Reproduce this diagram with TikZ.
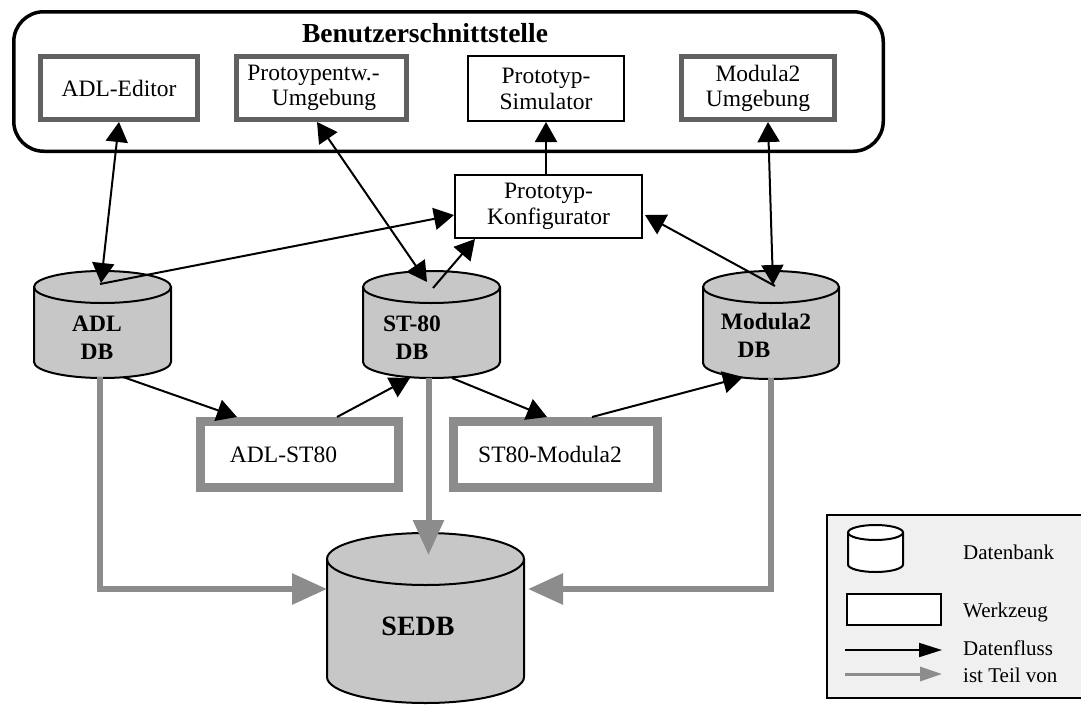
\documentclass[tikz,border=0pt]{standalone}
\usepackage{fontspec}
\setmainfont{Liberation Serif}
\usetikzlibrary{arrows.meta,calc}
\newcommand\myfs[2]{\fontsize{#1}{#2}\selectfont}
\newcommand\dbcyl[6]{%
  \path[#6] (#1-#4,#2) -- (#1-#4,#3)
     arc[start angle=180,end angle=0,x radius=#4,y radius=#5] -- (#1+#4,#2)
     arc[start angle=0,end angle=-180,x radius=#4,y radius=#5] -- cycle;
  \draw[line width=2pt] (#1-#4,#2) arc[start angle=180,end angle=0,x radius=#4,y radius=#5];
}
\tikzset{
  flowhead/.tip={Triangle[length=20pt,width=22pt]},
  flow/.style={line width=2pt, -flowhead},
  flowboth/.style={line width=2pt, flowhead-flowhead},
  partof/.style={line width=6pt, draw=black!45, -{Triangle[length=35pt,width=30pt,fill=black!45]}},
  tool/.style={draw=black!62, line width=5pt, fill=white, inner sep=0pt, font=\myfs{23.5}{25}, align=center},
  toolthick/.style={draw=black!45, line width=9pt, fill=white, inner sep=0pt, font=\myfs{23.5}{26}, align=center},
  plainbox/.style={draw, line width=2pt, fill=white, inner sep=0pt, font=\myfs{23.5}{26}, align=center},
  dbtext/.style={font=\bfseries\myfs{23.5}{28}, align=center, anchor=base},
  cylfill/.style={draw, line width=2pt, fill=black!22},
  legtext/.style={font=\myfs{21}{24}, anchor=base west, inner sep=0pt},
}
\begin{document}
\begin{tikzpicture}[x=1pt,y=-1pt]
\useasboundingbox (0,0) rectangle (1081,704);
\fill[white] (0,0) rectangle (1081,704);

% user interface frame
\draw[line width=3.5pt, rounded corners=30pt] (13.75,11.75) rectangle (883.25,151.25);
\node[font=\bfseries\myfs{27.5}{30}, anchor=base] (title) at (425,42) {Benutzerschnittstelle};

\node[tool, minimum width=157pt, minimum height=63pt] (adled) at (119,88) {ADL-Editor};
\node[tool, minimum width=170pt, minimum height=63pt] (proto) at (321.5,88) {Protoypentw.-\hspace*{16pt}\\\hspace*{5pt}Umgebung};
\node[plainbox, minimum width=156pt, minimum height=65pt] (sim) at (546,88.5) {Prototyp-\\Simulator};
\node[tool, minimum width=153pt, minimum height=63pt] (modu) at (758,88) {Modula2\\Umgebung};

\node[plainbox, minimum width=187pt, minimum height=63pt] (konf) at (548.5,206.5) {Prototyp-\\Konfigurator};

% databases
\dbcyl{102.5}{287}{362}{68.5}{16}{cylfill}
\dbcyl{431.5}{287}{362}{68.5}{16}{cylfill}
\dbcyl{771}{287}{363}{68}{16}{cylfill}
\dbcyl{425.5}{559}{677}{98.5}{26}{cylfill}
\node[dbtext] (adl) at (97,359) {ADL\\DB};
\node[dbtext] (st) at (412,359) {ST-80\\DB};
\node[dbtext] (mod) at (766,357) {Modula2\\DB\hspace*{24pt}};
\node[font=\bfseries\myfs{28}{30}, anchor=base] (sedb) at (418,635) {SEDB};

% translators
\node[toolthick, minimum width=198pt, minimum height=66pt] (adlst) at (299.5,454.5) {ADL-ST80\hspace*{32pt}};
\node[toolthick, minimum width=204pt, minimum height=66pt] (stmod) at (555.5,454.5) {ST80-Modula2\hspace*{11pt}};

% attachment points
\coordinate (adlC) at (101,283);
\coordinate (adlC2) at (100,284);
\coordinate (stC) at (427,282);
\coordinate (stC2) at (433,288);
\coordinate (modC) at (773,285);
\coordinate (modC2) at (775,286);
\coordinate (adlB) at (123,377);
\coordinate (stB1) at (410,378);
\coordinate (stB2) at (452,378);
\coordinate (modB) at (743,377);
\coordinate (adlG) at (100,377);
\coordinate (stG) at (428.5,378);
\coordinate (modG) at (771,378);
\coordinate (sedbL) at (327,589);
\coordinate (sedbR) at (528,589);
\coordinate (sedbT) at (428.5,555);

% data flow
\draw[flowboth] (adled.south) -- (adlC);
\draw[flowboth] ($(proto.south)+(-4.5,0)$) -- (stC);
\draw[flow] (konf.north -| sim.south) -- (sim.south);
\draw[flowboth] ($(modu.south)+(10,0)$) -- (modC);
\draw[flow] (adlC2) -- ($(konf.west)+(0,8.5)$);
\draw[flow] (stC2) -- ($(konf.south west)+(21,0)$);
\draw[flow] (modC2) -- ($(konf.east)+(2,8.5)$);
\draw[flow] (adlB) -- ($(adlst.north)+(-62.5,0)$);
\draw[flow] ($(adlst.north)+(37.5,0)$) -- (stB1);
\draw[flow] (stB2) -- ($(stmod.north)+(-8.5,0)$);
\draw[flow] ($(stmod.north)+(36.5,0)$) -- (modB);

% part-of
\draw[partof] (adlG) -- (adlG |- sedbL) -- (sedbL);
\draw[partof] (stG) -- (sedbT);
\draw[partof] (modG) -- (modG |- sedbR) -- (sedbR);

% legend
\draw[line width=2pt, fill=black!6] (827,515) rectangle (1090,698);
\dbcyl{875.5}{532.5}{564.5}{27.5}{7.5}{draw, line width=2pt, fill=white}
\node[draw, line width=2pt, fill=white, minimum width=94pt, minimum height=31pt, inner sep=0pt] (legtool) at (894,609.5) {};
\coordinate (lf1) at (845,650);
\coordinate (lf2) at (942,650);
\coordinate (lp1) at (845,674);
\coordinate (lp2) at (942,674);
\draw[line width=2pt, -{Triangle[length=23pt,width=14pt]}] (lf1) -- (lf2);
\draw[line width=3pt, draw=black!45, -{Triangle[length=22pt,width=14pt,fill=black!45]}] (lp1) -- (lp2);
\node[legtext] (l1) at (963,559) {Datenbank};
\node[legtext] (l2) at (963,617) {Werkzeug};
\node[legtext] (l3) at (963,655) {Datenfluss};
\node[legtext] (l4) at (963,682) {ist Teil von};
\end{tikzpicture}
\end{document}
